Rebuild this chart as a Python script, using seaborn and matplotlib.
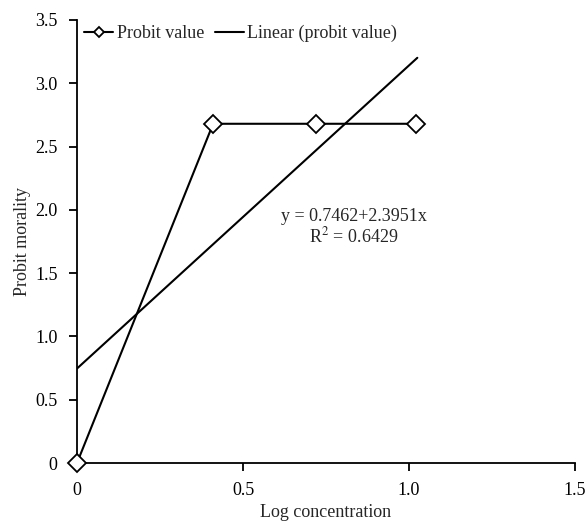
import matplotlib
matplotlib.use("Agg")
import matplotlib.pyplot as plt
import seaborn as sns
import numpy as np
import pandas as pd

log_conc = [0.0, 0.41, 0.72, 1.02]
probit = [0.0, 2.68, 2.68, 2.68]
intercept = 0.7462
slope = 2.3951
r2 = 0.6429
x_ticks = [0, 0.5, 1.0, 1.5]
x_labels = ["0", "0.5", "1.0", "1.5"]
y_ticks = [0, 0.5, 1.0, 1.5, 2.0, 2.5, 3.0, 3.5]
y_labels = ["0", "0.5", "1.0", "1.5", "2.0", "2.5", "3.0", "3.5"]

sns.set_theme(style="ticks")
plt.rcParams['font.family'] = ['Liberation Serif', 'DejaVu Serif']
plt.rcParams['mathtext.fontset'] = 'stix'

fig = plt.figure(figsize=(5.85, 5.23), dpi=100)
ax = fig.add_axes([0.1316, 0.1147, 0.983 - 0.1316, 0.9618 - 0.1147])

df = pd.DataFrame({"x": log_conc, "y": probit})
xs = np.array([log_conc[0], 1.025])
trend = pd.DataFrame({"x": xs, "y": intercept + slope * xs})

sns.lineplot(data=trend, x="x", y="y", ax=ax, color="black", lw=1.5,
             label="Linear (probit value)")
sns.lineplot(data=df, x="x", y="y", ax=ax, color="black", lw=1.5,
             marker="D", markersize=9, markerfacecolor="white",
             markeredgecolor="black", markeredgewidth=1.3,
             label="Probit value", clip_on=False, zorder=5)

ax.set_xlim(0, 1.5)
ax.set_ylim(0, 3.5)
ax.set_xticks(x_ticks)
ax.set_xticklabels(x_labels)
ax.set_yticks(y_ticks)
ax.set_yticklabels(y_labels)
ax.tick_params(direction="out", length=6, width=1.3, colors="black",
               labelsize=13, pad=8)
for s in ["top", "right"]:
    ax.spines[s].set_visible(False)
for s in ["left", "bottom"]:
    ax.spines[s].set_color("black")
    ax.spines[s].set_linewidth(1.3)

ax.set_xlabel("Log concentration", fontsize=13, labelpad=3)
ax.set_ylabel("Probit morality", fontsize=13, labelpad=3)

ax.text(0.834, 1.95, f"y = {intercept}+{slope}x", fontsize=13,
        ha="center", va="center")
ax.text(0.834, 1.79, f"R$^{{2}}$ = {r2}", fontsize=13,
        ha="center", va="center")

handles, labels = ax.get_legend_handles_labels()
order = [1, 0]
ax.legend([handles[i] for i in order], [labels[i] for i in order],
          loc="upper left", bbox_to_anchor=(-0.018, 1.025), ncol=2,
          frameon=False, fontsize=13, handlelength=1.6, handletextpad=0.2,
          columnspacing=0.6, markerscale=0.6)

fig.savefig("out.png", dpi=100)
